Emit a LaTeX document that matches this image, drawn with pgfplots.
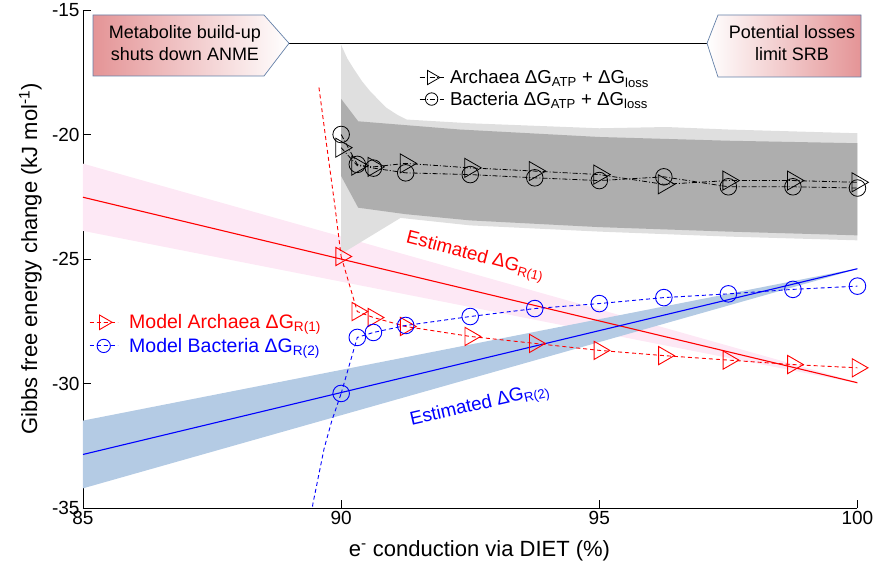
\documentclass[border=0pt]{standalone}
\usepackage{fontspec}
\setmainfont{Liberation Sans}
\usepackage{pgfplots}
\pgfplotsset{compat=1.18}
\definecolor{lgray}{RGB}{223,223,223}
\definecolor{dgray}{RGB}{174,174,174}
\definecolor{pinkband}{RGB}{253,232,245}
\definecolor{blueband}{RGB}{180,203,228}
\definecolor{boxred}{RGB}{228,148,150}
\definecolor{boxedge}{RGB}{100,128,168}
\begin{document}
\begin{tikzpicture}
\pgfplotsset{
  common/.style={
    x=51.63pt, y=24.9pt, xmin=85, xmax=100, ymin=-35, ymax=-15,
  },
  tri/.style={mark=triangle, mark size=10.5pt, mark options={solid, rotate=-90, fill=none}},
  circ/.style={mark=o, mark size=8.3pt, mark options={solid, fill=none}},
}
\begin{axis}[common,
  axis lines=left, axis line style={-, line width=0.9pt},
  tick align=inside, major tick length=8pt, tick style={black, line width=0.9pt},
  xtick={85,90,95,100}, ytick={-35,-30,-25,-20,-15},
  tick label style={font=\fontsize{19}{22}\selectfont},
  /pgf/number format/assume math mode=true,
  xlabel={e\textsuperscript{-} conduction via DIET (\%)},
  ylabel={Gibbs free energy change (kJ mol\textsuperscript{-1})},
  label style={font=\fontsize{22}{25}\selectfont},
  xlabel style={at={(axis description cs:0.512,-0.085)}, anchor=center},
  ylabel style={at={(axis description cs:-0.068,0.5)}, anchor=center},
  legend image code/.code={\draw[mark repeat=2, mark phase=2, #1, every mark/.append style={scale=0.75}] plot coordinates {(0pt,0pt) (12pt,0pt) (24pt,0pt)};},
  legend style={draw=none, fill=none, at={(axis description cs:0.43,0.888)}, anchor=north west,
    font=\fontsize{18.7}{22}\selectfont, cells={anchor=west}, row sep=2.5pt,
    /tikz/every odd column/.append style={column sep=4pt}},
]
% confidence bands
\addplot[fill=pinkband, draw=none, forget plot] coordinates {(85,-21.17) (100,-29.95) (100,-29.99) (85,-23.87)} --cycle;
\addplot[fill=blueband, draw=none, forget plot] coordinates {(85,-31.49) (100,-25.38) (100,-25.40) (85,-34.21)} --cycle;
\addplot[fill=lgray, draw=none, forget plot] coordinates {
 (90,-16.4) (90.12,-16.95) (90.24,-17.35) (90.4,-17.85) (90.56,-18.26) (90.72,-18.6) (90.88,-18.93) (91.08,-19.2) (91.27,-19.4) (92.5,-19.55) (95,-19.75) (96.3,-19.7) (97.5,-19.8) (100,-19.95)
 (100,-24.25) (97.5,-24.1) (95,-23.9) (92.5,-23.65) (91.15,-23.35) (90,-24.8)} --cycle;
\addplot[fill=dgray, draw=none, forget plot] coordinates {
 (90,-18.57) (90.33,-19.47) (92.3,-19.8) (95,-20.1) (97.5,-20.25) (100,-20.35)
 (100,-24.05) (97.5,-23.9) (95,-23.72) (92.5,-23.45) (91.25,-23.2) (90.33,-22.94) (90,-21.67)} --cycle;
% estimated regressions
\addplot[red, line width=1.1pt, forget plot] coordinates {(85,-22.52) (100,-29.97)};
\addplot[blue, line width=1.1pt, forget plot] coordinates {(85,-32.85) (100,-25.39)};
% ATP + loss series
\addplot[black, line width=0.8pt, dash pattern=on 5pt off 2pt on 1pt off 2pt, tri, mark size=11pt] coordinates {
 (90,-20.53) (90.3125,-21.25) (90.625,-21.3) (91.25,-21.16) (92.5,-21.34) (93.75,-21.47) (95,-21.61) (96.25,-22.0) (97.5,-21.85) (98.75,-21.85) (100,-21.92)};
\addlegendentry{Archaea ΔG\textsubscript{ATP} + ΔG\textsubscript{loss}}
\addplot[black, line width=0.8pt, dash pattern=on 5pt off 2pt on 1pt off 2pt, circ] coordinates {
 (90,-20.0) (90.3125,-21.2) (90.625,-21.35) (91.25,-21.54) (92.5,-21.61) (93.75,-21.74) (95,-21.85) (96.25,-21.7) (97.5,-22.1) (98.75,-22.1) (100,-22.15)};
\addlegendentry{Bacteria ΔG\textsubscript{ATP} + ΔG\textsubscript{loss}}
\end{axis}
\begin{axis}[common, hide axis,
  legend image code/.code={\draw[mark repeat=2, mark phase=2, #1, every mark/.append style={scale=0.8}] plot coordinates {(0pt,0pt) (14pt,0pt) (28pt,0pt)};},
  legend style={draw=none, fill=none, at={(axis description cs:0.004,0.397)}, anchor=north west,
    font=\fontsize{19.5}{23}\selectfont, cells={anchor=west}, row sep=4pt,
    /tikz/every odd column/.append style={column sep=9pt}},
]
\addplot[red, line width=0.9pt, dash pattern=on 4pt off 3pt, forget plot] coordinates {(89.57,-18.11) (89.72,-20.45) (89.88,-22.89) (90,-24.9)};
\addplot[blue, line width=0.9pt, dash pattern=on 4pt off 3pt, forget plot] coordinates {(89.42,-35.5) (89.45,-34.86) (89.67,-32.61) (89.82,-31.49) (90,-30.4)};
\addplot[red, line width=0.9pt, dash pattern=on 4pt off 3pt, tri] coordinates {
 (90,-24.9) (90.3125,-27.11) (90.625,-27.35) (91.25,-27.71) (92.5,-28.11) (93.75,-28.39) (95,-28.67) (96.25,-28.88) (97.5,-29.06) (98.75,-29.24) (100,-29.37)};
\addlegendentry{\textcolor{red}{Model Archaea ΔG\textsubscript{R(1)}}}
\addplot[blue, line width=0.9pt, dash pattern=on 4pt off 3pt, circ] coordinates {
 (90,-30.4) (90.3125,-28.15) (90.625,-27.95) (91.25,-27.67) (92.5,-27.31) (93.75,-26.99) (95,-26.79) (96.25,-26.55) (97.5,-26.4) (98.75,-26.22) (100,-26.09)};
\addlegendentry{\textcolor{blue}{Model Bacteria ΔG\textsubscript{R(2)}}}
\end{axis}
% annotation boxes
\draw[line width=1.2pt] (206pt,464.7pt) -- (624pt,464.7pt);
\draw[boxedge, line width=0.7pt, left color=boxred, right color=white] (10pt,493pt) -- (181pt,493pt) -- (206pt,464.7pt) -- (181pt,432pt) -- (10pt,432pt) -- cycle;
\draw[boxedge, line width=0.7pt, left color=white, right color=boxred] (624pt,464.7pt) -- (635pt,493pt) -- (778pt,493pt) -- (778pt,431pt) -- (635pt,431pt) -- cycle;
\node[align=center, font=\fontsize{18}{22}\selectfont] at (102pt,464.5pt) {Metabolite build-up\\shuts down ANME};
\node[align=center, font=\fontsize{18}{22}\selectfont] at (709pt,464.5pt) {Potential losses\\limit SRB};
\node[red, rotate=-14.5, font=\fontsize{18.8}{22}\selectfont] at (392pt,251pt) {Estimated ΔG\textsubscript{R(1)}};
\node[blue, rotate=13, font=\fontsize{18.8}{22}\selectfont] at (397pt,102pt) {Estimated ΔG\textsubscript{R(2)}};
\pgfresetboundingbox
\useasboundingbox (-83pt,-57pt) rectangle (791pt,508pt);
\end{tikzpicture}
\end{document}
